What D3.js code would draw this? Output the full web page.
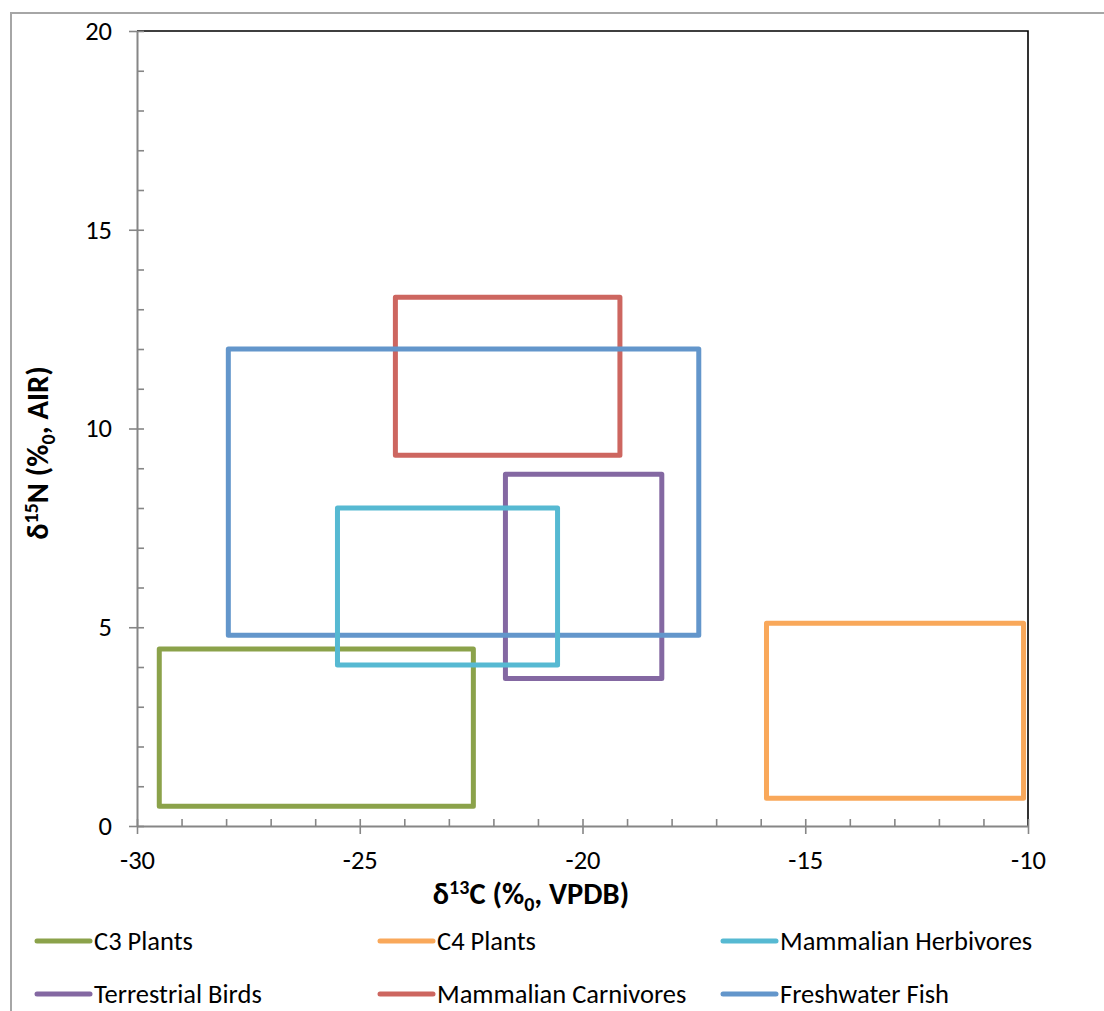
<!DOCTYPE html>
<html>
<head>
<meta charset="utf-8">
<script src="https://cdn.jsdelivr.net/npm/d3@7"></script>
<style>
  html, body { margin: 0; padding: 0; background: #fff; }
  svg { display: block; font-family: Carlito, Lato, "Liberation Sans", sans-serif; }
</style>
</head>
<body>
<svg id="chart" width="1104" height="1011"></svg>
<script>
// ---- data ----
const seriesNames = ["C3 Plants", "C4 Plants", "Mammalian Herbivores", "Terrestrial Birds", "Mammalian Carnivores", "Freshwater Fish"];
const carbonMin = [-29.5, -15.87, -25.5, -21.73, -24.2, -27.95];
const carbonMax = [-22.45, -10.1, -20.56, -18.22, -19.16, -17.39];
const nitrogenMin = [0.5, 0.7, 4.05, 3.71, 9.33, 4.8];
const nitrogenMax = [4.45, 5.1, 8.0, 8.85, 13.3, 12.0];
const xTickLabels = [-30, -25, -20, -15, -10];
const yTickLabels = [0, 5, 10, 15, 20];

// ---- styles ----
const seriesColors = ["#8ba24a", "#f9a85a", "#56b9d2", "#8468a2", "#cd6660", "#6396cb"];
const drawOrder = [0, 1, 3, 4, 5, 2];

const svg = d3.select("#chart");
const plot = { left: 137, top: 31, right: 1028, bottom: 826 };
const labelFont = "26.5px";

// outer chart border
svg.append("rect").attr("x", 11).attr("y", 13).attr("width", 1200).attr("height", 1100)
  .attr("fill", "#fff").attr("stroke", "#a6a6a6").attr("stroke-width", 2);

const x = d3.scaleLinear().domain([-30, -10]).range([plot.left, plot.right]);
const y = d3.scaleLinear().domain([0, 20]).range([plot.bottom, plot.top]);

// frame top and right (black)
svg.append("path")
  .attr("d", `M${plot.left},${plot.top}H${plot.right}V${plot.bottom}`)
  .attr("fill", "none").attr("stroke", "#000").attr("stroke-width", 1.6);

const axisColor = "#868686";
const minorX = d3.range(-30, -9.99, 1);
const minorY = d3.range(0, 20.01, 1);
const fmt = d => String(d);

const gxMinor = svg.append("g").attr("transform", `translate(0,${plot.bottom})`)
  .call(d3.axisTop(x).tickValues(minorX).tickSize(7).tickFormat(""));
const gx = svg.append("g").attr("transform", `translate(0,${plot.bottom})`)
  .call(d3.axisBottom(x).tickValues(xTickLabels).tickSizeInner(8).tickSizeOuter(0).tickPadding(16).tickFormat(fmt));
const gyMinor = svg.append("g").attr("transform", `translate(${plot.left},0)`)
  .call(d3.axisRight(y).tickValues(minorY).tickSize(7).tickFormat(""));
const gy = svg.append("g").attr("transform", `translate(${plot.left},0)`)
  .call(d3.axisLeft(y).tickValues(yTickLabels).tickSizeInner(8).tickSizeOuter(0).tickPadding(17).tickFormat(fmt));

[gxMinor, gyMinor].forEach(g => { g.select(".domain").remove(); });
[gx, gy, gxMinor, gyMinor].forEach(g => {
  g.selectAll(".domain").attr("stroke", axisColor).attr("stroke-width", 2);
  g.selectAll(".tick line").attr("stroke", axisColor).attr("stroke-width", 1.6);
  g.selectAll("text").attr("fill", "#000").style("font-size", labelFont).style("font-family", "Carlito, Lato, sans-serif");
});
gx.selectAll("text").attr("dy", "0.71em");

// boxes
svg.append("g").selectAll("rect").data(drawOrder).join("rect")
  .attr("x", i => x(carbonMin[i]))
  .attr("y", i => y(nitrogenMax[i]))
  .attr("width", i => x(carbonMax[i]) - x(carbonMin[i]))
  .attr("height", i => y(nitrogenMin[i]) - y(nitrogenMax[i]))
  .attr("fill", "none")
  .attr("stroke", i => seriesColors[i])
  .attr("stroke-width", 5)
  .attr("stroke-linejoin", "round");

// axis titles
const xt = svg.append("text").attr("x", 531).attr("y", 904)
  .attr("text-anchor", "middle").style("font-size", "30.5px").style("font-weight", "bold");
xt.append("tspan").text("δ");
xt.append("tspan").attr("dy", -10).style("font-size", "20px").text("13");
xt.append("tspan").attr("dy", 10).text("C (%");
xt.append("tspan").attr("dy", 7).style("font-size", "20px").text("0");
xt.append("tspan").attr("dy", -7).text(", VPDB)");

const yt = svg.append("text").attr("transform", `translate(48,453) rotate(-90)`)
  .attr("text-anchor", "middle").style("font-size", "30.5px").style("font-weight", "bold");
yt.append("tspan").text("δ");
yt.append("tspan").attr("dy", -10).style("font-size", "20px").text("15");
yt.append("tspan").attr("dy", 10).text("N (%");
yt.append("tspan").attr("dy", 7).style("font-size", "20px").text("0");
yt.append("tspan").attr("dy", -7).text(", AIR)");

// legend
const legendCols = [37, 380, 723];
const legendRows = [941, 994];
const lg = svg.append("g").selectAll("g").data(seriesNames).join("g")
  .attr("transform", (d, i) => `translate(${legendCols[i % 3]},${legendRows[Math.floor(i / 3)]})`);
lg.append("line").attr("x1", 0).attr("x2", 53).attr("y1", 0).attr("y2", 0)
  .attr("stroke", (d, i) => seriesColors[i]).attr("stroke-width", 5).attr("stroke-linecap", "round");
lg.append("text").attr("x", 57).attr("y", 0).attr("dy", "0.35em")
  .style("font-size", labelFont).text(d => d);
</script>
</body>
</html>
